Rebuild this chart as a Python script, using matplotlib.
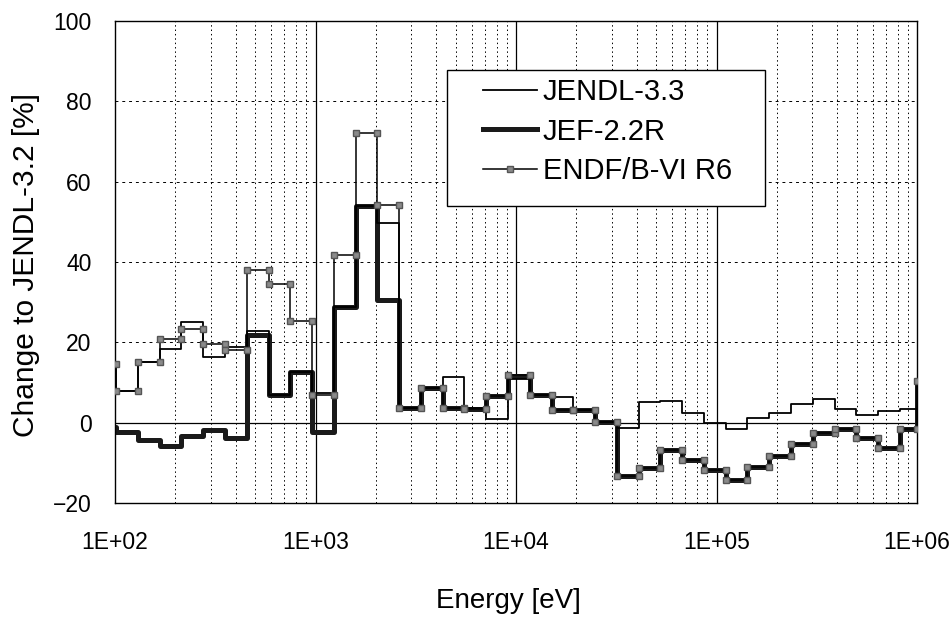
import numpy as np
import matplotlib
matplotlib.use("Agg")
import matplotlib.pyplot as plt
from matplotlib.patches import Rectangle
from matplotlib.ticker import FixedLocator, NullFormatter

plt.rcParams['font.family'] = ['Liberation Sans', 'DejaVu Sans']

# group boundaries [eV] (lethargy width 0.25), last one capped at axis end
edges = [78.9, 101.3, 130.1, 167.0, 214.5, 275.4, 353.6, 454.0, 583.0, 748.5,
         961.1, 1234, 1585, 2035, 2613, 3355, 4307, 5531, 7102, 9119,
         11709, 15034, 19305, 24788, 31828, 40868, 52475, 67379, 86517, 111090,
         142642, 183156, 235177, 301974, 387742, 497871, 639279, 820850, 1.0e6, 1.35e6]

jendl33 = [14.5, 7.9, 15.2, 18.3, 25.0, 16.3, 18.8, 22.8, 7.0, 12.5,
           7.5, 28.8, 54.0, 49.7, 3.7, 8.7, 11.4, 3.7, 0.8, 10.8,
           6.8, 6.5, 3.1, 0.2, -1.4, 5.1, 5.4, 2.3, 0.0, -1.5,
           1.1, 2.5, 4.7, 6.0, 3.5, 1.9, 2.9, 3.3, 3.3]

jef22r = [-1.0, -2.2, -4.3, -5.9, -3.2, -1.9, -3.8, 21.8, 7.0, 12.5,
          -2.4, 28.8, 54.0, 30.5, 3.7, 8.7, 3.7, 3.3, 6.6, 11.7,
          6.8, 3.1, 3.1, 0.2, -13.4, -11.4, -6.8, -9.3, -11.8, -14.2,
          -11.1, -8.2, -5.4, -2.5, -1.6, -3.7, -6.2, -1.6, 10.3]

endf6 = [14.5, 7.9, 15.2, 20.9, 23.2, 19.6, 18.0, 38.0, 34.4, 25.4,
         6.8, 41.8, 72.0, 54.3, 3.7, 8.7, 3.7, 3.3, 6.6, 11.9,
         6.8, 3.1, 3.1, 0.2, -13.4, -11.4, -6.8, -9.3, -11.8, -14.2,
         -11.1, -8.2, -5.4, -2.5, -1.6, -3.7, -6.2, -1.6, 10.3]

xticks = [1e2, 1e3, 1e4, 1e5, 1e6]
xlabels = ["1E+02", "1E+03", "1E+04", "1E+05", "1E+06"]
yticks = [-20, 0, 20, 40, 60, 80, 100]


def steps(vals):
    e = np.array(edges)
    xs = np.column_stack([e[:-1], e[1:]]).ravel()
    ys = np.repeat(np.array(vals), 2)
    return xs, ys


fig = plt.figure(figsize=(9.49, 6.21), dpi=100)
ax = fig.add_axes([0.1212, 0.19, 0.8451, 0.7762])

ax.set_xscale("log")
ax.set_xlim(1e2, 1e6)
ax.set_ylim(-20, 100)

# grid lines
ax.xaxis.set_minor_locator(FixedLocator([m * d for d in [1e2, 1e3, 1e4, 1e5] for m in range(2, 10)]))
ax.xaxis.set_minor_formatter(NullFormatter())
ax.grid(which="minor", axis="x", color="black", linestyle=(0, (1.5, 3)), linewidth=0.7)
for d in [1e3, 1e4, 1e5]:
    ax.axvline(d, color="black", linewidth=0.9, zorder=1)
for v in [20, 40, 60, 80]:
    ax.axhline(v, color="black", linestyle=(0, (3, 4)), linewidth=0.7, zorder=1)
ax.axhline(0, color="black", linewidth=0.9, zorder=1)

x, y = steps(jendl33)
ax.plot(x, y, color="black", linewidth=1.3, label="JENDL-3.3", zorder=3)
x, y = steps(jef22r)
ax.plot(x, y, color="#1a1a1a", linewidth=3.6, label="JEF-2.2R", zorder=2)
x, y = steps(endf6)
ax.plot(x, y, color="black", linewidth=1.1, marker="s", markersize=5,
        markerfacecolor="#8a8a8a", markeredgecolor="#555555", label="ENDF/B-VI R6", zorder=4)

ax.set_xticks(xticks)
ax.set_xticklabels(xlabels)
ax.set_yticks(yticks)
ax.tick_params(axis="both", which="both", length=0, labelsize=16.5, colors="black")
ax.tick_params(axis="x", pad=20)
ax.tick_params(axis="y", pad=17)

for s in ax.spines.values():
    s.set_color("black")
    s.set_linewidth(1.0)

ax.set_xlabel("Energy [eV]", fontsize=20)
ax.xaxis.set_label_coords(0.49, -0.176)
ax.set_ylabel("Change to JENDL-3.2 [%]", fontsize=21.5)
ax.yaxis.set_label_coords(-0.0935, 0.494)

# legend box drawn separately (wider side padding than top/bottom)
box = Rectangle((447 / 949, 1 - 206 / 621), 318 / 949, 136 / 621, transform=fig.transFigure,
                facecolor="white", edgecolor="black", linewidth=1.0, zorder=5)
fig.patches.append(box)
leg = fig.legend(*ax.get_legend_handles_labels(), loc="upper left",
                 bbox_to_anchor=(483 / 949, 1 - 78 / 621), fontsize=21,
                 frameon=False, handlelength=1.85, labelspacing=0.4, borderpad=0,
                 handletextpad=0.2, borderaxespad=0)
leg.set_zorder(6)

fig.savefig("out.png", dpi=100, facecolor="white")
